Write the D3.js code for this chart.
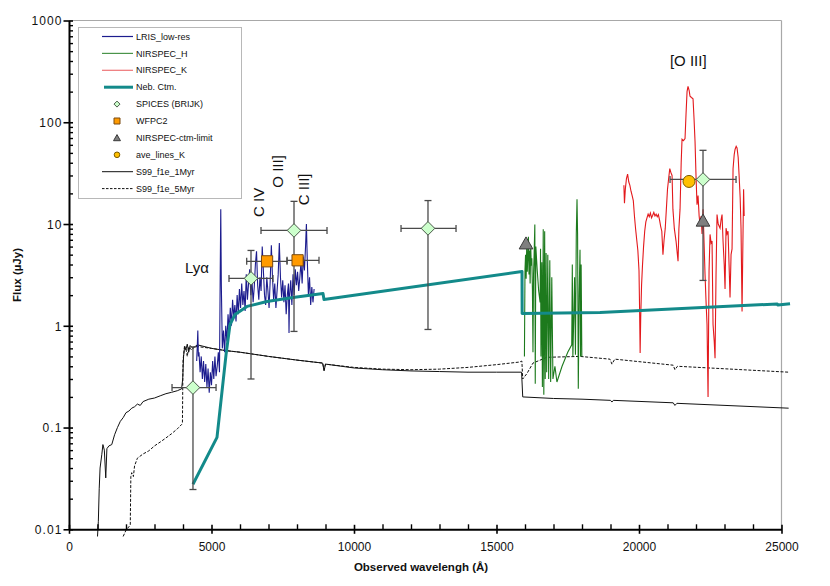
<!DOCTYPE html>
<html><head><meta charset="utf-8">
<script src="https://cdn.jsdelivr.net/npm/d3@7"></script>
<style>
body{margin:0;background:#fff}
svg{display:block}
text{font-family:"Liberation Sans",Arial,Helvetica,sans-serif;fill:#111}
</style>
</head><body>
<svg id="c" width="830" height="586"></svg>
<script>
// ---------------- DATA ----------------
const xMajorTicks = [0, 5000, 10000, 15000, 20000, 25000];
const xMinorStep = 1000;
const yMajorTicks = [0.01, 0.1, 1, 10, 100, 1000];
const yTickLabels = ["0.01", "0.1", "1", "10", "100", "1000"];

const legendLabels = ["LRIS_low-res", "NIRSPEC_H", "NIRSPEC_K", "Neb. Ctm.", "SPICES (BRIJK)",
  "WFPC2", "NIRSPEC-ctm-limit", "ave_lines_K", "S99_f1e_1Myr", "S99_f1e_5Myr"];

// LRIS low-res spectrum [wavelength (Å), flux (µJy)]
const lrisLowRes = [[4480,0.45],[4500,0.62],[4520,0.9],[4540,0.5],[4560,0.55],[4600,0.35],[4640,0.50],[4680,0.30],[4720,0.45],[4760,0.28],[4800,0.42],[4840,0.25],[4880,0.38],[4920,0.22],[4960,0.35],[5000,0.26],[5040,0.45],[5080,0.30],[5120,0.50],[5160,0.32],[5200,0.40],[5240,0.55],[5280,0.35],[5305,3.0],[5325,14],[5345,2.5],[5380,0.6],[5420,0.9],[5460,0.55],[5500,1.0],[5540,0.7],[5580,1.3],[5620,0.9],[5660,1.5],[5700,1.0],[5740,1.8],[5780,1.2],[5820,1.6],[5860,1.1],[5900,2.0],[5940,1.3],[5980,2.3],[6020,1.5],[6060,2.6],[6100,1.6],[6140,2.2],[6180,1.4],[6220,3.2],[6260,1.8],[6300,2.6],[6340,3.6],[6380,2.0],[6420,2.8],[6460,1.7],[6500,2.4],[6540,4.0],[6580,5.4],[6620,2.5],[6660,1.8],[6700,3.0],[6740,2.2],[6780,6.0],[6820,3.5],[6860,2.0],[6900,1.6],[6940,3.0],[6980,2.2],[7020,1.5],[7060,2.8],[7100,6.2],[7140,3.0],[7180,1.8],[7220,2.6],[7260,1.5],[7300,2.2],[7340,3.2],[7380,6.5],[7420,3.0],[7460,1.9],[7500,2.8],[7540,1.7],[7580,2.5],[7620,1.3],[7660,2.0],[7700,2.6],[7720,0.85],[7740,2.0],[7780,2.8],[7820,1.6],[7860,3.2],[7900,2.0],[7940,3.6],[7980,2.5],[8020,3.4],[8060,2.2],[8100,3.0],[8140,4.2],[8180,2.6],[8220,4.8],[8260,3.5],[8300,6.0],[8330,10.0],[8360,4.5],[8400,2.0],[8440,3.0],[8480,1.6],[8520,2.4],[8560,1.7],[8600,2.3]];

// NIRSPEC H-band spectrum
const nirspecH = [[15980,0.5],[16000,3.6],[16020,5.0],[16040,2.9],[16060,6.0],[16080,3.4],[16100,5.0],[16120,7.5],[16140,3.2],[16160,5.5],[16180,2.6],[16200,6.2],[16220,3.9],[16240,4.6],[16260,2.3],[16280,0.55],[16300,3.2],[16320,5.0],[16345,9.9],[16360,0.27],[16380,6.0],[16430,3.5],[16480,2.2],[16530,1.7],[16545,5.7],[16560,0.5],[16590,4.2],[16610,0.25],[16640,8.9],[16660,0.21],[16690,8.5],[16710,0.3],[16740,5.2],[16760,0.35],[16800,5.0],[16830,0.3],[16870,4.4],[16900,0.28],[16940,3.0],[16980,0.3],[17050,0.4],[17120,0.28],[17300,0.4],[17500,0.55],[17640,0.65],[17660,4.0],[17680,0.5],[17720,1.6],[17740,3.0],[17770,0.52],[17800,8.0],[17825,17.5],[17845,8.0],[17870,0.24],[17900,2.0],[17930,5.6],[17950,0.5],[17970,4.0],[17995,0.5]];

// NIRSPEC K-band spectrum
const nirspecK = [[19470,24],[19490,16],[19520,22],[19560,28],[19600,31],[19640,26],[19680,24],[19720,21],[19760,19],[19800,17],[19840,12],[19880,9],[19920,7],[19960,5.5],[20000,3.5],[20020,1.5],[20040,0.54],[20060,1.2],[20090,2.5],[20120,3.8],[20160,6],[20200,8.5],[20240,10.5],[20280,11.5],[20320,12.5],[20360,11.8],[20400,12.8],[20440,11.5],[20480,12.2],[20520,13],[20560,12],[20600,12.5],[20640,11.8],[20680,12.4],[20720,11],[20760,9.5],[20800,8.5],[20840,5.0],[20880,7],[20920,9],[20960,14],[21000,22],[21040,28],[21080,35],[21120,32],[21160,30],[21190,14],[21240,9],[21300,6.8],[21370,4.3],[21400,9],[21440,14],[21480,40],[21510,68],[21560,66],[21615,69],[21650,120],[21686,200],[21720,225],[21760,205],[21790,180],[21840,175],[21896,170],[21930,110],[21966,65],[22000,30],[22036,15.5],[22072,19],[22110,12],[22142,9.9],[22180,12],[22212,8],[22247,14],[22280,7],[22317,3.2],[22350,1.8],[22387,1.03],[22423,0.2],[22440,0.8],[22458,3.5],[22493,7.9],[22530,6.5],[22563,6.8],[22598,1.03],[22640,0.7],[22668,0.48],[22703,3.2],[22738,12.4],[22780,10],[22844,9.1],[22880,11],[22914,12.4],[22949,6.8],[22990,4],[23019,2.3],[23054,9.1],[23090,8],[23124,8.5],[23160,4],[23194,1.9],[23230,5],[23265,5.7],[23300,35],[23340,48],[23370,54],[23410,58],[23440,56],[23480,45],[23510,31],[23550,18],[23580,9.1],[23616,1.38],[23640,5],[23670,22],[23690,12]];

// Nebular continuum model
const nebCtm = [[4350,0.0277],[5193,0.08],[5510,0.52],[5649,1.03],[5825,1.29],[6246,1.55],[6947,1.73],[7860,1.90],[8912,2.08],[8947,1.81],[15895,3.42],[15900,1.32],[18632,1.35],[24850,1.64],[24870,1.60],[25300,1.65]];

// Starburst99 models
const s99_1Myr = [[1000,0.0085],[1030,0.012],[1060,0.025],[1090,0.04],[1150,0.054],[1190,0.068],[1240,0.06],[1290,0.032],[1330,0.062],[1400,0.066],[1500,0.068],[1600,0.085],[1700,0.1],[1800,0.115],[1900,0.125],[2000,0.14],[2100,0.145],[2200,0.155],[2300,0.16],[2400,0.17],[2500,0.165],[2600,0.18],[2800,0.19],[3000,0.195],[3200,0.205],[3400,0.215],[3600,0.222],[3800,0.23],[3950,0.24],[3990,0.3],[4020,0.5],[4060,0.63],[4100,0.58],[4150,0.66],[4200,0.55],[4250,0.64],[4350,0.6],[4500,0.65],[4700,0.63],[5000,0.6],[5500,0.57],[6000,0.55],[7000,0.5],[8000,0.46],[8900,0.43],[8950,0.36],[9000,0.42],[10000,0.385],[11000,0.37],[12000,0.36],[13000,0.355],[14000,0.35],[15000,0.35],[15880,0.35],[15920,0.2],[17000,0.193],[18000,0.19],[19000,0.185],[19050,0.178],[19100,0.185],[21200,0.175],[21260,0.165],[21330,0.173],[25250,0.155]];
const s99_5Myr = [[1900,0.0085],[2000,0.0098],[2150,0.011],[2170,0.033],[2200,0.036],[2260,0.033],[2300,0.042],[2400,0.05],[2600,0.055],[2800,0.059],[3000,0.066],[3200,0.072],[3400,0.079],[3600,0.087],[3800,0.097],[3950,0.107],[3980,0.11],[4000,0.45],[4050,0.62],[4100,0.6],[4150,0.5],[4200,0.62],[4300,0.58],[4400,0.63],[4600,0.62],[5000,0.6],[5500,0.57],[6000,0.55],[7000,0.5],[8000,0.46],[8900,0.43],[8950,0.37],[9000,0.42],[10000,0.39],[11000,0.375],[12000,0.37],[13000,0.375],[14000,0.39],[15000,0.415],[15800,0.44],[15890,0.45],[15920,0.3],[16070,0.34],[16280,0.43],[16770,0.49],[17930,0.5],[18980,0.47],[19050,0.42],[19150,0.47],[21200,0.41],[21260,0.37],[21350,0.4],[25250,0.35]];

// Photometry
const spicesWave = [4350, 6386, 7895, 12596, 22246];
const spicesFlux = [0.247, 2.92, 8.65, 9.06, 27.4];
const spicesWaveLo = [3615, 5614, 6737, 11650, 21089];
const spicesWaveHi = [5160, 7158, 9053, 13580, 23405];
const spicesFluxLo = [0.0246, 0.30, 0.88, 0.92, 2.79];
const spicesFluxHi = [0.62, 5.5, 16.7, 17.0, 53];

const wfpc2Wave = [6950, 8020];
const wfpc2Flux = [4.3, 4.4];
const wfpc2WaveLo = [6235, 7650];
const wfpc2WaveHi = [7650, 8772];

const ctmLimitWave = [16036, 22246];
const ctmLimitFlux = [6.45, 10.8];

const aveLinesWave = [21754];
const aveLinesFlux = [26.2];

const lineLabels = [
  {t:"Lyα", w:4490, f:3.75, rot:false, size:15},
  {t:"C IV", w:6650, f:16.3, rot:true, size:15},
  {t:"O III]", w:7334, f:32.9, rot:true, size:15},
  {t:"C III]", w:8220, f:21.9, rot:true, size:15},
  {t:"[O III]", w:21730, f:400, rot:false, size:15}
];

// ---------------- LAYOUT ----------------
const L = 69, R = 781.5, T = 20.5, B = 529.3;
const svg = d3.select("#c");
const x = d3.scaleLinear().domain([0, 25000]).range([L, R]);
const y = d3.scaleLog().domain([0.01, 1000]).range([B, T]);

const colors = {lris:"#1c1c8e", h:"#1d7a1d", k:"#e3191c", neb:"#138a8a"};

// frame (top & right, grey)
svg.append("line").attr("x1", L).attr("x2", R).attr("y1", T).attr("y2", T).attr("stroke", "#a8a8a8").attr("stroke-width", 1);
svg.append("line").attr("x1", R).attr("x2", R).attr("y1", T).attr("y2", B).attr("stroke", "#a8a8a8").attr("stroke-width", 1.2);

const line = d3.line().x(d => x(d[0])).y(d => y(d[1]));

const plot = svg.append("g");
plot.append("path").datum(s99_1Myr).attr("d", line).attr("fill", "none").attr("stroke", "#111").attr("stroke-width", 1);
plot.append("path").datum(s99_5Myr).attr("d", line).attr("fill", "none").attr("stroke", "#111").attr("stroke-width", 1).attr("stroke-dasharray", "3,1.6");
plot.append("path").datum(lrisLowRes).attr("d", line).attr("fill", "none").attr("stroke", colors.lris).attr("stroke-width", 1.1);
plot.append("path").datum(nirspecH).attr("d", line).attr("fill", "none").attr("stroke", colors.h).attr("stroke-width", 1.1);
plot.append("path").datum(nirspecK).attr("d", line).attr("fill", "none").attr("stroke", colors.k).attr("stroke-width", 1.1);
plot.append("path").datum(nebCtm).attr("d", line).attr("fill", "none").attr("stroke", colors.neb).attr("stroke-width", 3).attr("stroke-linejoin", "round");

// error bars
const eb = svg.append("g").attr("stroke", "#4a4a4a").attr("stroke-width", 1.3).attr("fill", "none");
const cap = 3.5;
spicesWave.forEach((w, i) => {
  const cx = x(w), cy = y(spicesFlux[i]);
  const x0 = x(spicesWaveLo[i]), x1 = x(spicesWaveHi[i]);
  const y0 = y(spicesFluxLo[i]), y1 = y(spicesFluxHi[i]);
  eb.append("line").attr("x1", x0).attr("x2", x1).attr("y1", cy).attr("y2", cy);
  eb.append("line").attr("x1", x0).attr("x2", x0).attr("y1", cy - cap).attr("y2", cy + cap);
  eb.append("line").attr("x1", x1).attr("x2", x1).attr("y1", cy - cap).attr("y2", cy + cap);
  eb.append("line").attr("x1", cx).attr("x2", cx).attr("y1", y0).attr("y2", y1);
  eb.append("line").attr("x1", cx - cap).attr("x2", cx + cap).attr("y1", y0).attr("y2", y0);
  eb.append("line").attr("x1", cx - cap).attr("x2", cx + cap).attr("y1", y1).attr("y2", y1);
});
wfpc2Wave.forEach((w, i) => {
  const cy = y(wfpc2Flux[i]);
  const x0 = x(wfpc2WaveLo[i]), x1 = x(wfpc2WaveHi[i]);
  eb.append("line").attr("x1", x0).attr("x2", x1).attr("y1", cy).attr("y2", cy);
  eb.append("line").attr("x1", x0).attr("x2", x0).attr("y1", cy - cap).attr("y2", cy + cap);
  eb.append("line").attr("x1", x1).attr("x2", x1).attr("y1", cy - cap).attr("y2", cy + cap);
});

// marker shapes
const diamond = h => `M0,${-h}L${h},0L0,${h}L${-h},0Z`;
const tri = h => `M0,${-h}L${h*1.05},${h*0.85}L${-h*1.05},${h*0.85}Z`;
const square = h => `M${-h},${-h}H${h}V${h}H${-h}Z`;

const mk = svg.append("g");
ctmLimitWave.forEach((w, i) => {
  mk.append("path").attr("d", tri(6.5)).attr("transform", `translate(${x(w)},${y(ctmLimitFlux[i])})`)
    .attr("fill", "#7f7f7f").attr("stroke", "#3a3a3a").attr("stroke-width", 1);
});
wfpc2Wave.forEach((w, i) => {
  mk.append("path").attr("d", square(5.6)).attr("transform", `translate(${x(w)},${y(wfpc2Flux[i])})`)
    .attr("fill", "#ff9a00").attr("stroke", "#7a4a10").attr("stroke-width", 1);
});
aveLinesWave.forEach((w, i) => {
  mk.append("circle").attr("cx", x(w)).attr("cy", y(aveLinesFlux[i])).attr("r", 6)
    .attr("fill", "#ffc000").attr("stroke", "#7a5a00").attr("stroke-width", 1);
});
spicesWave.forEach((w, i) => {
  mk.append("path").attr("d", diamond(6.8)).attr("transform", `translate(${x(w)},${y(spicesFlux[i])})`)
    .attr("fill", "#ccffcc").attr("stroke", "#4a5a4a").attr("stroke-width", 1);
});

// ---------------- AXES ----------------
const xMinor = d3.range(xMajorTicks[0], xMajorTicks[xMajorTicks.length - 1] + 1, xMinorStep).filter(v => !xMajorTicks.includes(v));
const xg = svg.append("g").attr("transform", `translate(0,${B})`);
xg.append("g").call(d3.axisBottom(x).tickValues(xMinor).tickSize(-5).tickSizeOuter(0).tickFormat(""))
  .call(g => g.select(".domain").remove())
  .call(g => g.selectAll("line").attr("stroke", "#000").attr("stroke-width", 1.4));
xg.append("g").call(d3.axisBottom(x).tickValues(xMajorTicks).tickSize(4.5).tickSizeOuter(0).tickFormat(d3.format("d")))
  .call(g => g.select(".domain").attr("stroke", "#000").attr("stroke-width", 2))
  .call(g => g.selectAll(".tick line").attr("y1", -4.5).attr("stroke", "#000").attr("stroke-width", 1.6))
  .call(g => g.selectAll(".tick text").attr("y", 21.5).attr("dy", 0).attr("font-size", 12)
    .attr("font-family", "Liberation Sans, Arial, sans-serif").attr("fill", "#111"));

const yMinor = [];
yMajorTicks.slice(0, -1).forEach(d => { for (let k = 2; k <= 9; k++) yMinor.push(d * k); });
const yg = svg.append("g").attr("transform", `translate(${L},0)`);
yg.append("g").call(d3.axisLeft(y).tickValues(yMinor).tickSize(-4).tickSizeOuter(0).tickFormat(""))
  .call(g => g.select(".domain").remove())
  .call(g => g.selectAll("line").attr("stroke", "#000").attr("stroke-width", 1.4));
yg.append("g").call(d3.axisLeft(y).tickValues(yMajorTicks).tickSize(5.5).tickSizeOuter(0).tickFormat((d, i) => yTickLabels[i]))
  .call(g => g.select(".domain").attr("stroke", "#000").attr("stroke-width", 2))
  .call(g => g.selectAll(".tick line").attr("x1", 4).attr("stroke", "#000").attr("stroke-width", 1.6))
  .call(g => g.selectAll(".tick text").attr("x", -6.5).attr("dy", "0.36em").attr("font-size", 12)
    .attr("letter-spacing", 1.1).attr("font-family", "Liberation Sans, Arial, sans-serif").attr("fill", "#111"));

svg.append("text").attr("x", 421).attr("y", 571).attr("text-anchor", "middle")
  .attr("font-size", 11.5).attr("font-weight", "bold").text("Observed wavelengh (Å)");
svg.append("text").attr("transform", "translate(21,275) rotate(-90)").attr("text-anchor", "middle")
  .attr("font-size", 11.5).attr("font-weight", "bold").text("Flux (µJy)");

// line labels
lineLabels.forEach(d => {
  const t = svg.append("text").attr("font-size", d.size).attr("fill", "#222").attr("text-anchor", "middle").attr("dy", "0.35em").text(d.t);
  if (d.rot) t.attr("transform", `translate(${x(d.w)},${y(d.f)}) rotate(-90)`);
  else t.attr("x", x(d.w)).attr("y", y(d.f));
});

// ---------------- LEGEND ----------------
const lg = svg.append("g");
lg.append("rect").attr("x", 78.5).attr("y", 27.5).attr("width", 163).attr("height", 171)
  .attr("fill", "#fff").attr("stroke", "#b8b8b8").attr("stroke-width", 1);
const ly = i => 36.5 + i * 16.9;
const lx0 = 102, lx1 = 133, lmx = 117, ltx = 136;
const legendDraw = [
  g => g.append("line").attr("stroke", colors.lris).attr("stroke-width", 1.2),
  g => g.append("line").attr("stroke", colors.h).attr("stroke-width", 1.2).attr("opacity", 0.8),
  g => g.append("line").attr("stroke", colors.k).attr("stroke-width", 1.2).attr("opacity", 0.6),
  g => g.append("line").attr("stroke", colors.neb).attr("stroke-width", 3),
  g => g.append("path").attr("d", diamond(3)).attr("fill", "#ccffcc").attr("stroke", "#4a5a4a"),
  g => g.append("path").attr("d", square(3)).attr("fill", "#ff9a00").attr("stroke", "#7a4a10"),
  g => g.append("path").attr("d", tri(3.3)).attr("fill", "#7f7f7f").attr("stroke", "#3a3a3a"),
  g => g.append("circle").attr("r", 2.8).attr("fill", "#ffc000").attr("stroke", "#7a5a00"),
  g => g.append("line").attr("stroke", "#111").attr("stroke-width", 1),
  g => g.append("line").attr("stroke", "#111").attr("stroke-width", 1).attr("stroke-dasharray", "2.5,1.5")
];
legendLabels.forEach((lab, i) => {
  const g = lg.append("g");
  const el = legendDraw[i](g);
  if (el.node().tagName === "line") el.attr("x1", i === 3 ? 104 : lx0).attr("x2", lx1).attr("y1", ly(i)).attr("y2", ly(i));
  else el.attr("transform", `translate(${lmx},${ly(i)})`);
  g.append("text").attr("x", ltx).attr("y", ly(i)).attr("dy", "0.35em").attr("font-size", 9).attr("fill", "#111").text(lab);
});
</script>
</body></html>
